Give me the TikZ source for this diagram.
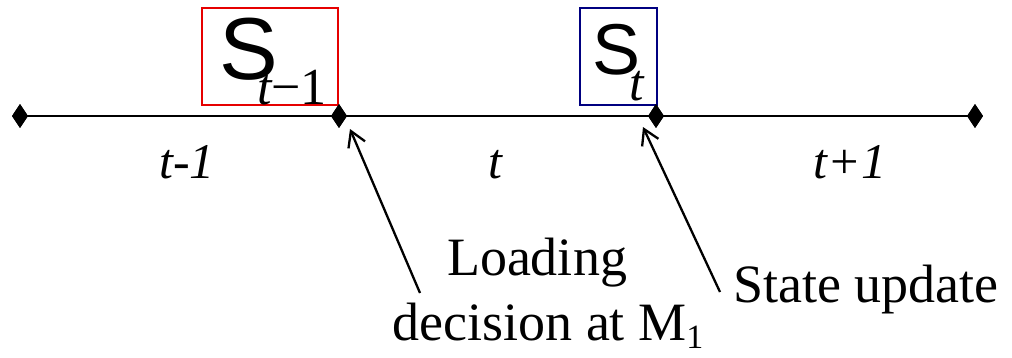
\documentclass[tikz,border=0pt]{standalone}
\usepackage{fontspec}
\setmainfont{Liberation Serif}
\newfontfamily\arialf{Liberation Sans}
\usetikzlibrary{arrows.meta,shapes.geometric}
\tikzset{
  dia/.style={diamond,fill=black,inner sep=0pt,minimum width=16pt,minimum height=24pt,aspect=0.7},
  box/.style={draw,line width=1.3pt},
  lbl/.style={font=\fontsize{50}{60}\selectfont\itshape,anchor=base},
  note/.style={font=\fontsize{54}{64}\selectfont,anchor=base},
  ptr/.style={line width=2.3pt,-{Straight Barb[length=15pt,width=18pt,line width=2.3pt]}},
  bigS/.style={font=\arialf\fontsize{72}{80}\selectfont,anchor=base west,inner sep=0pt},
  subS/.style={font=\fontsize{52}{60}\selectfont,anchor=base west,inner sep=0pt}
}
\begin{document}
\begin{tikzpicture}[x=1pt,y=-1pt]
\useasboundingbox (0,0) rectangle (1012,357);
% boxes
\node[box,draw={rgb,255:red,230;green,0;blue,0},minimum width=136pt,minimum height=97pt,inner sep=0pt] (rb) at (270,56.5) {};
\node[box,draw={rgb,255:red,0;green,0;blue,128},minimum width=77pt,minimum height=97pt,inner sep=0pt] (bb) at (618.5,56.5) {};
% state labels
\node[bigS,font=\arialf\fontsize{88}{96}\selectfont] (s1) at (219,79) {S};
\node[subS] (s1sub) at (257,104) {\itshape t\upshape−1};
\node[bigS,font=\arialf\fontsize{72}{80}\selectfont] (s2) at (592,74) {S};
\node[subS] (s2sub) at (629,100) {\itshape t};
% time line
\node[dia] (d0) at (20,116) {};
\node[dia] (d1) at (339,116) {};
\node[dia] (d2) at (656,116) {};
\node[dia] (d3) at (975,116) {};
\draw[line width=2.6pt] (d0.center) -- (d3.center);
\node[dia] at (d0) {};
\node[dia] at (d1) {};
\node[dia] at (d2) {};
\node[dia] at (d3) {};
% period labels
\node[lbl] (p1) at (187,178) {t-1};
\node[lbl] (p2) at (495,178) {t};
\node[lbl] (p3) at (850,178) {t+1};
% notes
\node[note] (n1a) at (537,275) {Loading};
\node[note] (n1b) at (548,340) {decision at M\raisebox{-0.15em}{\fontsize{34}{40}\selectfont 1}};
\node[note] (n2) at (866,302) {State update};
\coordinate (a1) at (420,293);
\coordinate (a1t) at (350,129);
\coordinate (a2) at (720,292);
\coordinate (a2t) at (643,127);
\draw[ptr] (a1) -- (a1t);
\draw[ptr] (a2) -- (a2t);
\end{tikzpicture}
\end{document}
